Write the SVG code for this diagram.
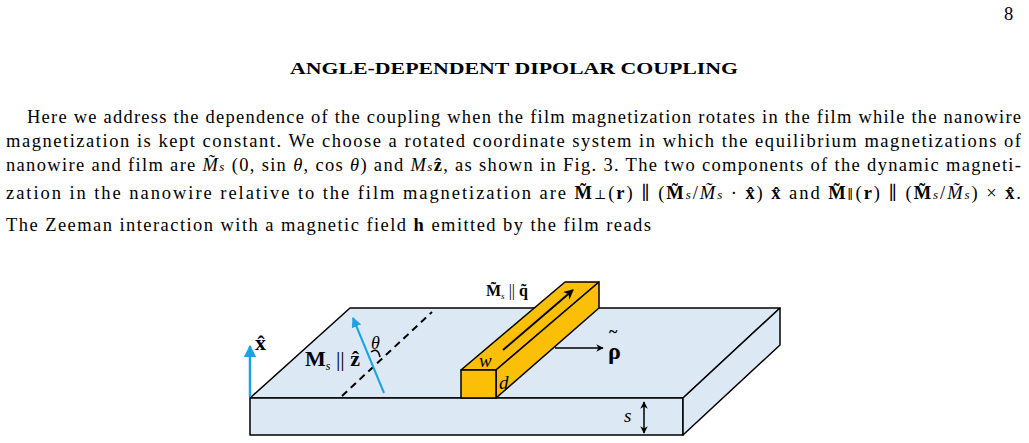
<svg xmlns="http://www.w3.org/2000/svg" width="1029" height="443" viewBox="0 0 1029 443">
<style>
text{font-family:"Liberation Serif","DejaVu Serif",serif;fill:#000}
.p{font-size:18.5px}
.i{font-style:italic}
.b{font-weight:bold}
.edge{stroke:#000;stroke-width:1.5;stroke-linejoin:round}
</style>
<defs>
<marker id="ab" viewBox="0 0 10 10" refX="9" refY="5" markerWidth="5" markerHeight="5" orient="auto"><path d="M0,0L10,5L0,10z" fill="#1aa3e0"/></marker>
<marker id="ak" viewBox="0 0 10 10" refX="9" refY="5" markerWidth="5" markerHeight="5" orient="auto"><path d="M0,0L10,5L0,10L3,5z" fill="#000"/></marker>
<marker id="ak2" viewBox="0 0 10 10" refX="9" refY="5" markerWidth="5" markerHeight="5" orient="auto-start-reverse"><path d="M0,0L10,5L0,10L3,5z" fill="#000"/></marker>
</defs>
<rect width="1029" height="443" fill="#fff"/>
<text x="1004" y="20" class="p">8</text>
<text x="514" y="74" class="b" font-size="16.5" text-anchor="middle" textLength="448" lengthAdjust="spacingAndGlyphs">ANGLE-DEPENDENT DIPOLAR COUPLING</text>
<g class="p">
<text x="27" y="123" textLength="994" lengthAdjust="spacing">Here we address the dependence of the coupling when the film magnetization rotates in the film while the nanowire</text>
<text x="6" y="147" textLength="1015" lengthAdjust="spacing">magnetization is kept constant. We choose a rotated coordinate system in which the equilibrium magnetizations of</text>
<text x="6" y="171" textLength="1015" lengthAdjust="spacing">nanowire and film are <tspan class="i">M̃</tspan><tspan font-size="13" class="i">s</tspan> (0, sin <tspan class="i">θ</tspan>, cos <tspan class="i">θ</tspan>) and <tspan class="i">M</tspan><tspan font-size="13" class="i">s</tspan><tspan class="b">ẑ</tspan>, as shown in Fig. 3. The two components of the dynamic magneti-</text>
<text x="6" y="199" textLength="1015" lengthAdjust="spacing">zation in the nanowire relative to the film magnetization are <tspan class="b">M̃</tspan><tspan font-size="13">⊥</tspan>(<tspan class="b">r</tspan>) ∥ (<tspan class="b">M̃</tspan><tspan font-size="13" class="i">s</tspan>/<tspan class="i">M̃</tspan><tspan font-size="13" class="i">s</tspan> · <tspan class="b">x̂</tspan>) <tspan class="b">x̂</tspan> and <tspan class="b">M̃</tspan><tspan font-size="13">∥</tspan>(<tspan class="b">r</tspan>) ∥ (<tspan class="b">M̃</tspan><tspan font-size="13" class="i">s</tspan>/<tspan class="i">M̃</tspan><tspan font-size="13" class="i">s</tspan>) × <tspan class="b">x̂</tspan>.</text>
<text x="6" y="231" textLength="645" lengthAdjust="spacing">The Zeeman interaction with a magnetic field <tspan class="b">h</tspan> emitted by the film reads</text>
</g>
<g id="slab">
<polygon class="edge" points="250,398 350,308 780,308 683,398" fill="#dce8f4"/>
<polygon class="edge" points="250,398 683,398 683,435 250,435" fill="#dce8f4"/>
<polygon class="edge" points="683,398 780,308 780,345 683,435" fill="#dce8f4"/>
</g>
<g id="wire">
<polygon class="edge" points="461,370 565,282 599,282 496,370" fill="#fbbf08"/>
<polygon class="edge" points="496,370 599,282 599,308 496,398" fill="#fbbf08"/>
<rect class="edge" x="461" y="370" width="35" height="28" fill="#fbbf08"/>
<text x="479" y="367" class="i" font-size="19">w</text>
<text x="499" y="389" class="i" font-size="19">d</text>
</g>
<g id="connectors">
<line x1="503" y1="350" x2="573" y2="290" stroke="#000" stroke-width="2" marker-end="url(#ak)"/>
<line x1="555" y1="348" x2="603" y2="348" stroke="#000" stroke-width="1.5" marker-end="url(#ak)"/>
<line x1="644" y1="402" x2="644" y2="433" stroke="#000" stroke-width="1.5" marker-start="url(#ak2)" marker-end="url(#ak2)"/>
<line x1="342" y1="396" x2="432" y2="312" stroke="#000" stroke-width="2" stroke-dasharray="7,5"/>
<line x1="384" y1="393" x2="353" y2="318" stroke="#1aa3e0" stroke-width="2" marker-end="url(#ab)"/>
<line x1="250" y1="397" x2="250" y2="346" stroke="#1aa3e0" stroke-width="2.5" marker-end="url(#ab)"/>
<path d="M371,352 Q378,347 380,357" fill="none" stroke="#000" stroke-width="1.5"/>
</g>
<g id="labels">
<text x="255" y="350" class="b" font-size="22">x̂</text>
<text x="305" y="366" class="b" font-size="22">M<tspan font-size="12" font-weight="normal" class="i" dy="4">s</tspan><tspan font-weight="normal" dy="-4"> || </tspan>ẑ</text>
<text x="371" y="349" class="i" font-size="18">θ</text>
<text x="486" y="296" class="b" font-size="16">M̃<tspan font-size="9" font-weight="normal" class="i" dy="3">s</tspan><tspan font-weight="normal" dy="-3"> || </tspan>q̃</text>
<text x="608" y="359" class="b" font-size="24">ρ</text>
<text x="609" y="337" class="b" font-size="16">~</text>
<text x="624" y="422" class="i" font-size="19">s</text>
</g>
</svg>
